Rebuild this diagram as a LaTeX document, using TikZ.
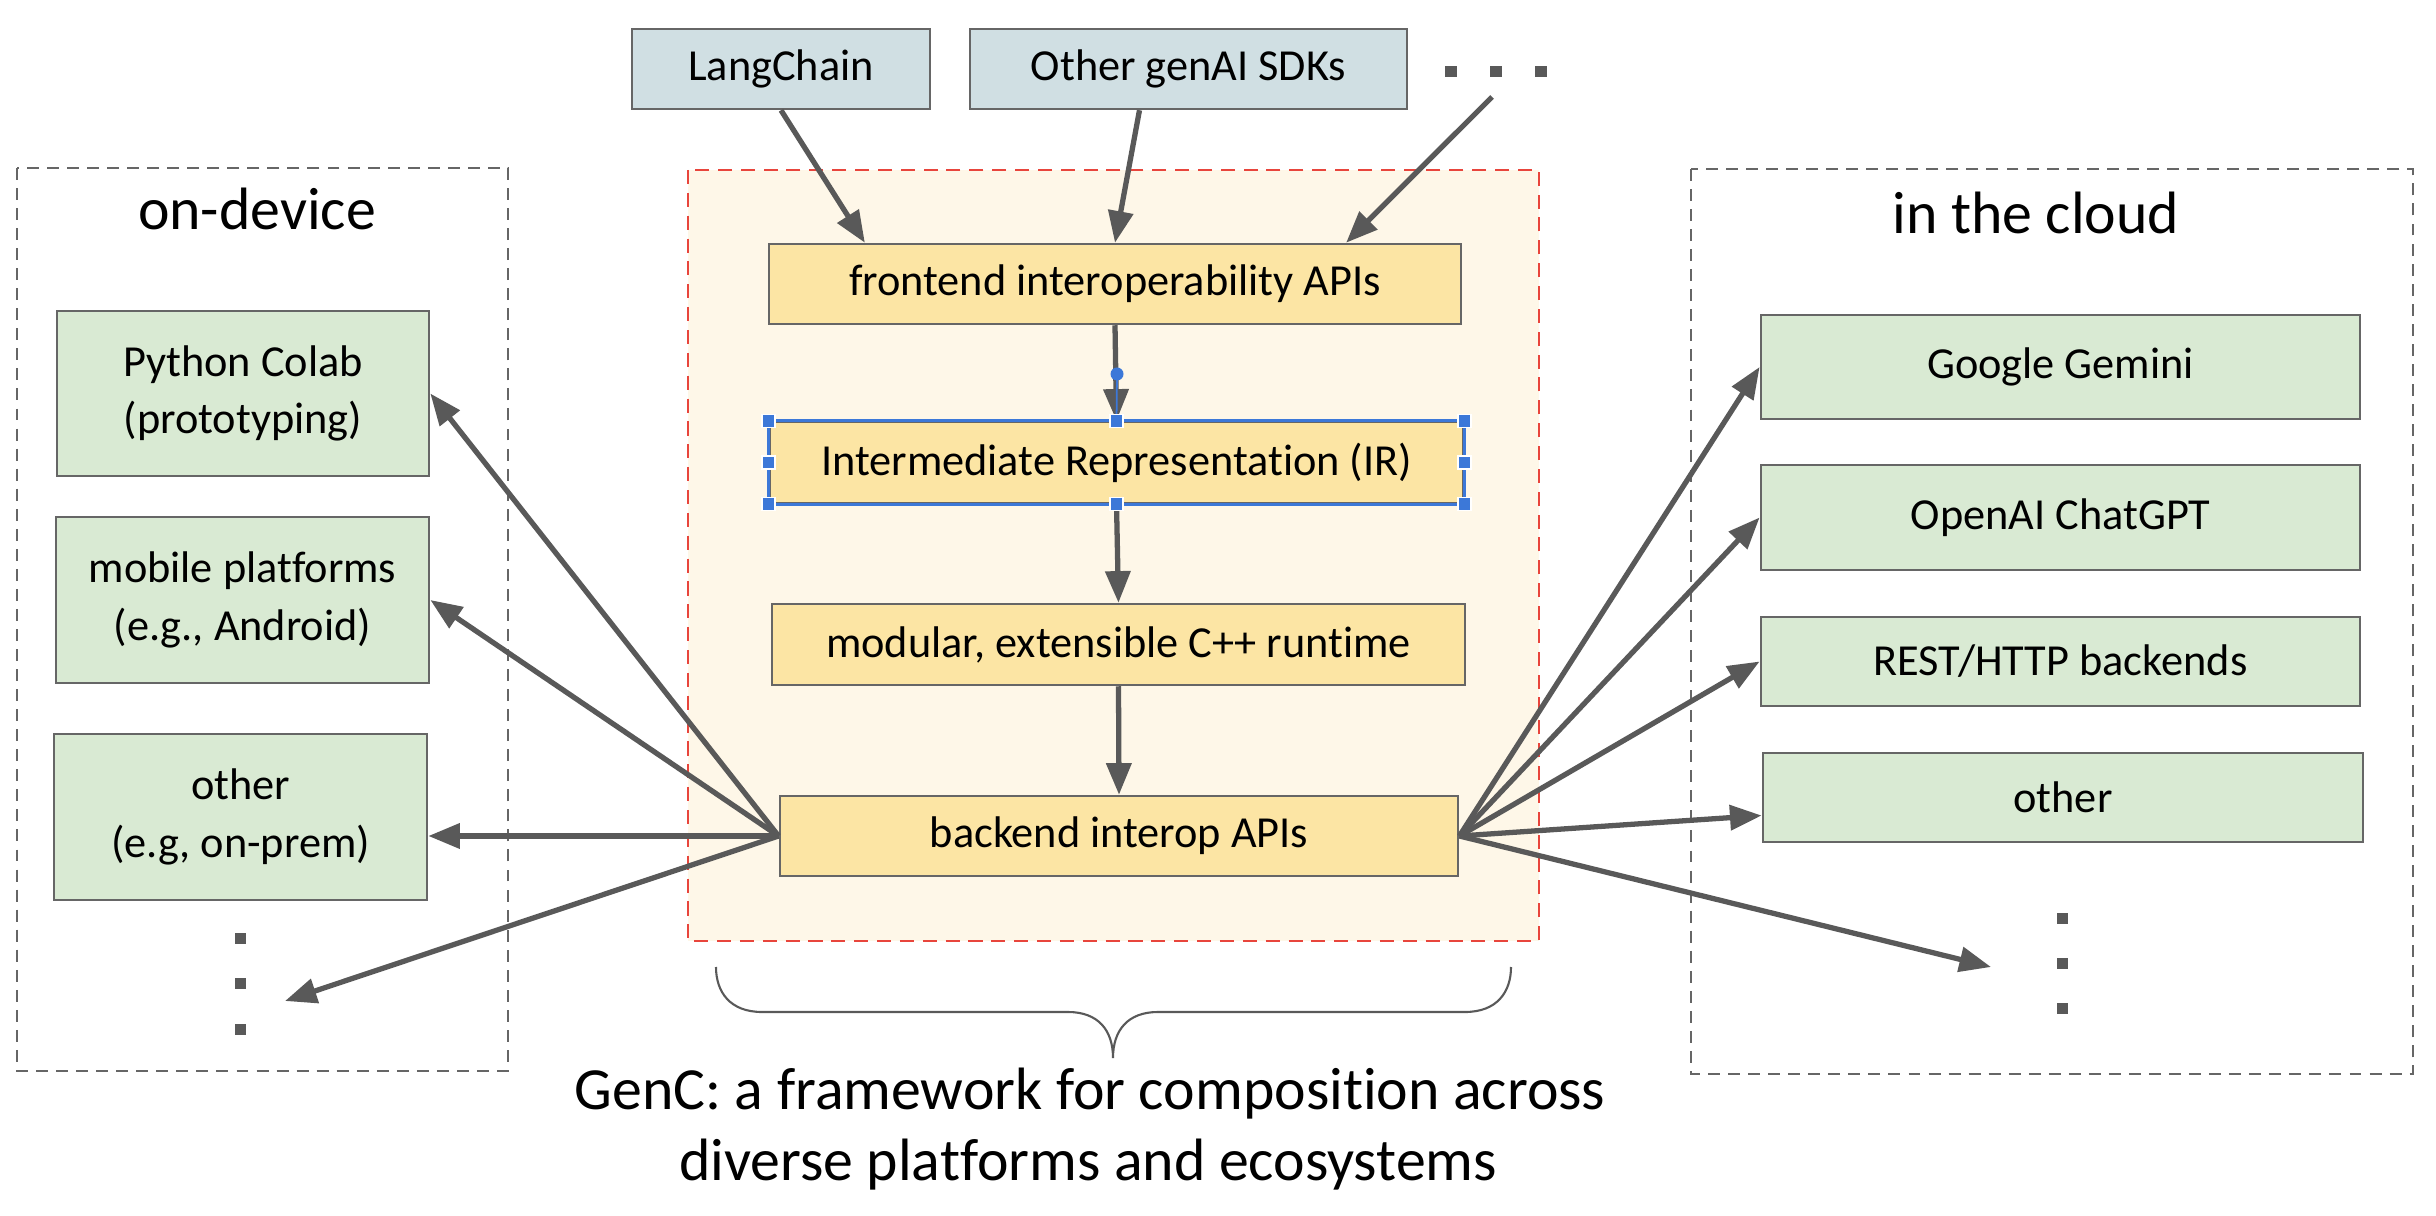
\documentclass[tikz,border=0pt]{standalone}
\usepackage{fontspec}
\setmainfont[Ligatures=NoCommon]{Carlito}
\usetikzlibrary{arrows.meta,positioning,calc}
\definecolor{sdkblue}{HTML}{D0DFE3}
\definecolor{coreyellow}{HTML}{FCE5A4}
\definecolor{platgreen}{HTML}{D9EAD3}
\definecolor{creambg}{HTML}{FEF7E8}
\definecolor{dashred}{HTML}{E8453C}
\definecolor{boxgray}{HTML}{666666}
\definecolor{arrgray}{HTML}{595959}
\definecolor{selblue}{HTML}{3C78D8}
\tikzset{
  boxnode/.style = {draw=boxgray, line width=0.7pt, inner sep=0pt, align=center, font=\fontsize{12.6}{16.4}\selectfont},
  sdk_b/.style = {boxnode, fill=sdkblue},
  core_y/.style = {boxnode, fill=coreyellow},
  plat_g/.style = {boxnode, fill=platgreen},
  conn/.style = {draw=arrgray, line width=1.5pt, -{Triangle[length=9pt,width=7pt]}},
  handle_s/.style = {rectangle, fill=selblue, draw=white, line width=0.4pt, minimum size=0.13cm, inner sep=0pt},
  group_d/.style = {draw=boxgray, line width=0.8pt, dash pattern=on 3.4pt off 2.3pt},
  title_t/.style = {font=\fontsize{17}{20}\selectfont, anchor=base, inner sep=0pt}
}

\begin{document}
\begin{tikzpicture}[x=0.01cm, y=-0.01cm]
  \useasboundingbox (0,0) rectangle (2436,1216);

  % containers
  \draw[fill=creambg, draw=dashred, line width=0.8pt, dash pattern=on 4pt off 2.5pt] (688,170) rectangle (1539,941);
  \draw[group_d] (17,168) rectangle (508,1071);
  \draw[group_d] (1691,169) rectangle (2413,1074);
  \node[title_t] (ondev) at (257,230) {on-device};
  \node[title_t] (cloud) at (2036,234) {in the cloud};

  % sdks on top
  \node[sdk_b, minimum width=2.98cm, minimum height=0.80cm] (lang) at (781,69) {LangChain};
  \node[sdk_b, minimum width=4.37cm, minimum height=0.80cm] (oth) at (1188.5,69) {Other genAI SDKs};
  \foreach \x in {1451,1496,1541}
    \fill[arrgray] (\x-6,66) rectangle ++(12,11);
  \coordinate (tdots) at (1492,97);

  % core stack
  \node[core_y, minimum width=6.92cm, minimum height=0.80cm] (fe) at (1115,284) {frontend interoperability APIs};
  \node[core_y, minimum width=6.93cm, minimum height=0.81cm] (ir) at (1116.5,462.5) {Intermediate Representation (IR)};
  \node[core_y, minimum width=6.93cm, minimum height=0.81cm] (rt) at (1118.5,644.5) {modular, extensible C++ runtime};
  \node[core_y, minimum width=6.78cm, minimum height=0.80cm] (be) at (1119,836) {backend interop APIs};

  % on-device
  \node[plat_g, minimum width=3.72cm, minimum height=1.65cm] (py) at (243,393.5) {Python Colab\\(prototyping)};
  \node[plat_g, minimum width=3.73cm, minimum height=1.66cm] (mob) at (242.5,600) {mobile platforms\\(e.g., Android)};
  \node[plat_g, minimum width=3.73cm, minimum height=1.66cm] (othL) at (240.5,817) {other\\(e.g, on-prem)};
  \foreach \y in {938,983,1029}
    \fill[arrgray] (240-5.5,\y-5.5) rectangle ++(11,11);
  \coordinate (ldots) at (285,1001);

  % in the cloud
  \node[plat_g, minimum width=5.99cm, minimum height=1.04cm] (gem) at (2060.5,367) {Google Gemini};
  \node[plat_g, minimum width=5.99cm, minimum height=1.05cm] (oai) at (2060.5,517.5) {OpenAI ChatGPT};
  \node[plat_g, minimum width=5.99cm, minimum height=0.89cm] (rest) at (2060.5,661.5) {REST/HTTP backends};
  \node[plat_g, minimum width=6.00cm, minimum height=0.89cm] (othR) at (2063,797.5) {other};
  \foreach \y in {918,963,1008}
    \fill[arrgray] (2062-5.5,\y-5.5) rectangle ++(11,11);
  \coordinate (rdots) at (1991,967);

  % connectors
  \draw[conn] (lang.south) -- ([xshift=-2.5cm]fe.north);
  \draw[conn] ([xshift=-0.49cm]oth.south) -- (fe.north);
  \draw[conn] (tdots) -- ([xshift=2.31cm]fe.north);
  \draw[conn] (fe.south) -- (ir.north);
  \draw[conn] (ir.south) -- (rt.north);
  \draw[conn] (rt.south) -- (be.north);
  \draw[conn] (be.west) -- (py.east);
  \draw[conn] (be.west) -- (mob.east);
  \draw[conn] (be.west) -- (be.west -| othL.east);
  \draw[conn] (be.west) -- (ldots);
  \draw[conn] (be.east) -- (gem.west);
  \draw[conn] (be.east) -- (oai.west);
  \draw[conn] (be.east) -- (rest.west);
  \draw[conn] (be.east) -- ([yshift=-0.18cm]othR.west);
  \draw[conn] (be.east) -- (rdots);

  % selection marks on the IR box
  \draw[selblue, line width=0.8pt] (ir.north west) rectangle (ir.south east);
  \draw[selblue, line width=0.5pt] (1117,374) -- (ir.north);
  \fill[selblue] (1117,374) circle (0.065cm);
  \foreach \a in {north west,north,north east,west,east,south west,south,south east}
    \node[handle_s] at (ir.\a) {};

  % brace and caption
  \draw[arrgray, line width=0.6pt] (716,967) .. controls (716,992) and (730,1012) .. (762,1012) -- (1068,1012)
    .. controls (1098,1012) and (1113,1030) .. (1113,1058)
    .. controls (1113,1030) and (1128,1012) .. (1158,1012) -- (1465,1012)
    .. controls (1497,1012) and (1511,992) .. (1511,967);
  \node[title_t] (cap1) at (1090,1109) {GenC: a framework for composition across};
  \node[title_t] (cap2) at (1088,1180) {diverse platforms and ecosystems};
\end{tikzpicture}
\end{document}
